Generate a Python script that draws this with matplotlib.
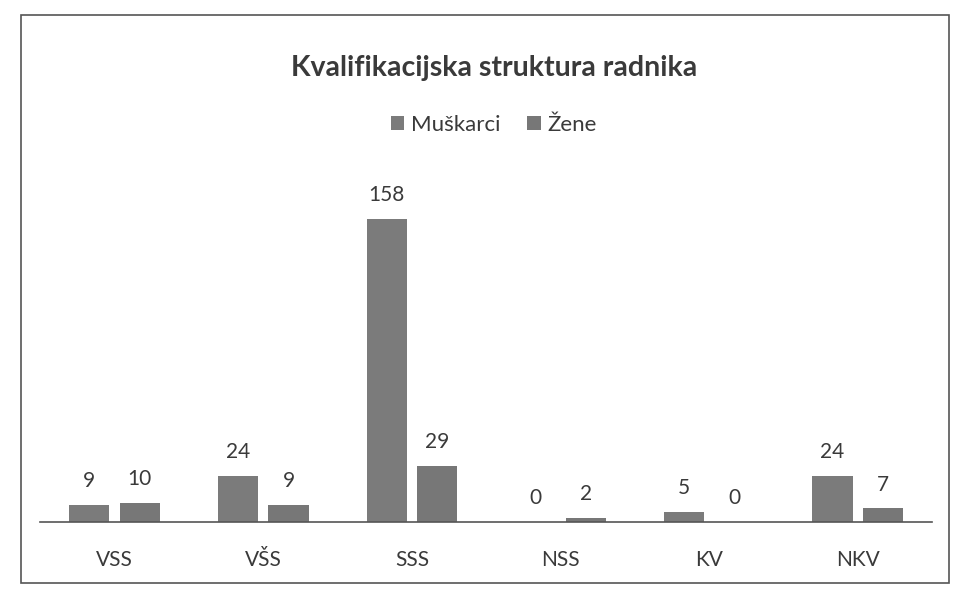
import matplotlib
matplotlib.use("Agg")
import matplotlib.pyplot as plt
import numpy as np
from matplotlib.patches import Rectangle

categories = ["VSS", "VŠS", "SSS", "NSS", "KV", "NKV"]
muskarci = [9, 24, 158, 0, 5, 24]
zene = [10, 9, 29, 2, 0, 7]
series_names = ["Muškarci", "Žene"]
title = "Kvalifikacijska struktura radnika"

plt.rcParams['font.family'] = ['Lato', 'DejaVu Sans']

fig = plt.figure(figsize=(9.59, 5.95), dpi=100)
fig.patch.set_facecolor("white")
ax = fig.add_axes([0.042, 0.123, 0.93, 0.58])

x = np.arange(len(categories))
w = 0.27
off = 0.17
c1 = "#7b7b7b"
c2 = "#777777"
b1 = ax.bar(x - off, muskarci, w, color=c1, label=series_names[0])
b2 = ax.bar(x + off, zene, w, color=c2, label=series_names[1])

for bars, vals in ((b1, muskarci), (b2, zene)):
    for b, v in zip(bars, vals):
        ax.annotate(str(v), (b.get_x() + b.get_width() / 2, v),
                    xytext=(0, 10), textcoords="offset points",
                    ha="center", va="bottom", fontsize=15, color="#3a3a3a")

ax.set_xlim(-0.5, len(categories) - 0.5)
ax.set_ylim(0, 180)
ax.set_yticks([])
ax.set_xticks(x)
ax.set_xticklabels(categories, fontsize=15, color="#3a3a3a")
ax.tick_params(axis="x", length=0, pad=20)
for s in ("top", "right", "left"):
    ax.spines[s].set_visible(False)
ax.spines["bottom"].set_color("#555555")
ax.spines["bottom"].set_linewidth(1.2)

fig.text(0.515, 0.885, title, ha="center", va="center", fontsize=20.5,
         fontweight="bold", color="#3a3a3a")
fig.legend(loc="center", bbox_to_anchor=(0.515, 0.79), ncol=2, frameon=False,
           fontsize=16, handlelength=0.6, handleheight=0.6, handletextpad=0.3,
           columnspacing=1.2, labelcolor="#3a3a3a")

fig.patches.append(Rectangle((0.022, 0.02), 0.968, 0.955, transform=fig.transFigure,
                             fill=False, edgecolor="#555555", linewidth=1.2))

fig.savefig("out.png", dpi=100)
